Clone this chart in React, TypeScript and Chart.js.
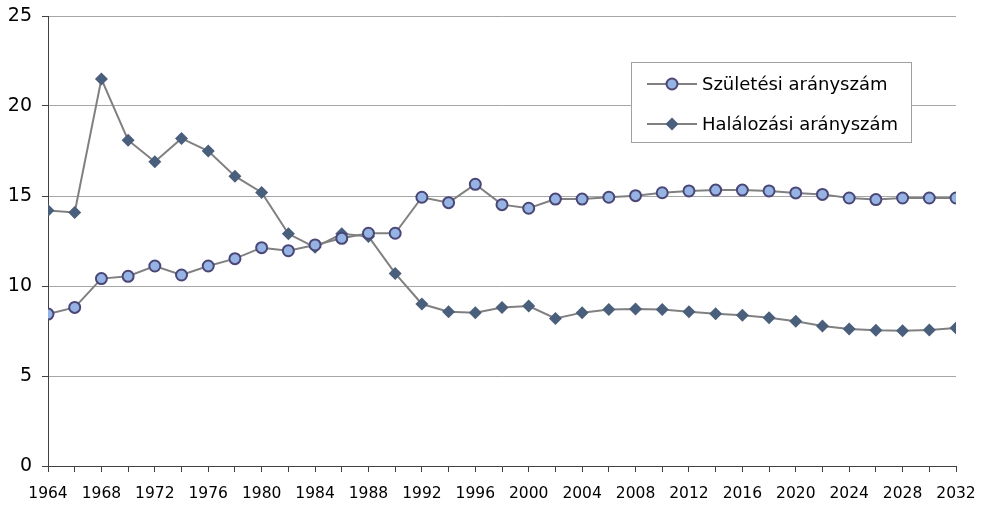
import React, { useEffect, useRef } from "react";
import { Chart, registerables } from "chart.js";

Chart.register(...registerables);

const years: number[] = [
  1964, 1966, 1968, 1970, 1972, 1974, 1976, 1978, 1980, 1982, 1984, 1986,
  1988, 1990, 1992, 1994, 1996, 1998, 2000, 2002, 2004, 2006, 2008, 2010,
  2012, 2014, 2016, 2018, 2020, 2022, 2024, 2026, 2028, 2030, 2032,
];

const births: number[] = [
  8.44, 8.81, 10.41, 10.54, 11.11, 10.61, 11.11, 11.52, 12.13, 11.96, 12.28,
  12.65, 12.93, 12.93, 14.93, 14.63, 15.65, 14.52, 14.32, 14.83, 14.83, 14.93,
  15.02, 15.18, 15.28, 15.33, 15.33, 15.28, 15.17, 15.09, 14.89, 14.8, 14.89,
  14.89, 14.89,
];

const deaths: number[] = [
  14.2, 14.09, 21.5, 18.1, 16.9, 18.2, 17.5, 16.1, 15.2, 12.9, 12.15, 12.9,
  12.75, 10.7, 9.0, 8.57, 8.52, 8.81, 8.89, 8.2, 8.52, 8.7, 8.72, 8.69, 8.57,
  8.46, 8.37, 8.24, 8.04, 7.78, 7.61, 7.54, 7.52, 7.56, 7.67,
];

const seriesNames: string[] = ["Születési arányszám", "Halálozási arányszám"];

const FONT = "'DejaVu Sans', Verdana, sans-serif";
const LINE_COLOR = "#808080";
const BIRTH_FILL = "#95b3e3";
const BIRTH_BORDER = "#4a4676";
const DEATH_FILL = "#4a5f7c";

const legendPlugin = {
  id: "customLegend",
  afterDraw(chart: any) {
    const ctx = chart.ctx as CanvasRenderingContext2D;
    const x0 = 631.5, y0 = 62.5, w = 280, h = 80;
    ctx.save();
    ctx.fillStyle = "#ffffff";
    ctx.fillRect(x0, y0, w, h);
    ctx.strokeStyle = "#a0a0a0";
    ctx.lineWidth = 1;
    ctx.strokeRect(x0, y0, w, h);
    const rows = [84, 124];
    rows.forEach((cy, i) => {
      ctx.strokeStyle = LINE_COLOR;
      ctx.lineWidth = 2;
      ctx.beginPath();
      ctx.moveTo(647, cy);
      ctx.lineTo(697, cy);
      ctx.stroke();
      if (i === 0) {
        ctx.beginPath();
        ctx.arc(672, cy, 5.5, 0, Math.PI * 2);
        ctx.fillStyle = BIRTH_FILL;
        ctx.fill();
        ctx.strokeStyle = BIRTH_BORDER;
        ctx.lineWidth = 2;
        ctx.stroke();
      } else {
        const r = 6.5;
        ctx.beginPath();
        ctx.moveTo(672, cy - r);
        ctx.lineTo(672 + r, cy);
        ctx.lineTo(672, cy + r);
        ctx.lineTo(672 - r, cy);
        ctx.closePath();
        ctx.fillStyle = DEATH_FILL;
        ctx.fill();
      }
      ctx.fillStyle = "#000000";
      ctx.font = `18px ${FONT}`;
      ctx.textBaseline = "middle";
      ctx.textAlign = "left";
      ctx.fillText(seriesNames[i], 702, cy + 1);
    });
    ctx.restore();
  },
};

export default function App() {
  const canvasRef = useRef<HTMLCanvasElement | null>(null);

  useEffect(() => {
    document.body.style.margin = "0";
    const canvas = canvasRef.current;
    if (!canvas) return;
    const chart = new Chart(canvas, {
      type: "line",
      data: {
        datasets: [
          {
            label: seriesNames[0],
            data: years.map((y, i) => ({ x: y, y: births[i] })),
            borderColor: LINE_COLOR,
            borderWidth: 2,
            pointStyle: "circle",
            pointRadius: 5.5,
            pointBackgroundColor: BIRTH_FILL,
            pointBorderColor: BIRTH_BORDER,
            pointBorderWidth: 2,
            tension: 0,
            order: 1,
          },
          {
            label: seriesNames[1],
            data: years.map((y, i) => ({ x: y, y: deaths[i] })),
            borderColor: LINE_COLOR,
            borderWidth: 2,
            pointStyle: "rectRot",
            pointRadius: 6.5,
            pointBackgroundColor: DEATH_FILL,
            pointBorderColor: DEATH_FILL,
            pointBorderWidth: 0,
            tension: 0,
            order: 2,
          },
        ],
      },
      options: {
        animation: false,
        responsive: false,
        maintainAspectRatio: false,
        layout: { padding: { top: 16, right: 26, left: 0, bottom: 0 } },
        plugins: {
          legend: { display: false },
          tooltip: { enabled: false },
        },
        scales: {
          x: {
            type: "linear",
            min: 1964,
            max: 2032,
            afterFit(scale: any) {
              scale.height = 39;
              scale.paddingLeft = 0;
              scale.paddingRight = 0;
            },
            afterBuildTicks(scale: any) {
              scale.ticks = years.map((v) => ({ value: v }));
            },
            ticks: {
              autoSkip: false,
              maxRotation: 0,
              minRotation: 0,
              padding: 13,
              color: "#000000",
              font: { family: FONT, size: 15.5 },
              callback: (v: any) =>
                (Number(v) - 1964) % 4 === 0 ? String(v) : "",
            },
            grid: {
              display: true,
              drawOnChartArea: false,
              drawTicks: true,
              tickLength: 6,
              color: "#404040",
            },
            border: { display: true, color: "#404040", width: 1 },
          },
          y: {
            min: 0,
            max: 25,
            afterFit(scale: any) {
              scale.width = 48;
              scale.paddingTop = 0;
              scale.paddingBottom = 0;
            },
            ticks: {
              stepSize: 5,
              padding: 10,
              color: "#000000",
              font: { family: FONT, size: 19 },
            },
            grid: {
              color: "#a6a6a6",
              lineWidth: 1,
              drawTicks: true,
              tickLength: 6,
              tickColor: "#404040",
            },
            border: { display: true, color: "#404040", width: 1 },
          },
        },
      },
      plugins: [legendPlugin],
    });
    return () => chart.destroy();
  }, []);

  return (
    <div style={{ position: "absolute", left: 0, top: 0, width: 982, height: 505 }}>
      <canvas ref={canvasRef} width={982} height={505} style={{ width: 982, height: 505 }} />
    </div>
  );
}
